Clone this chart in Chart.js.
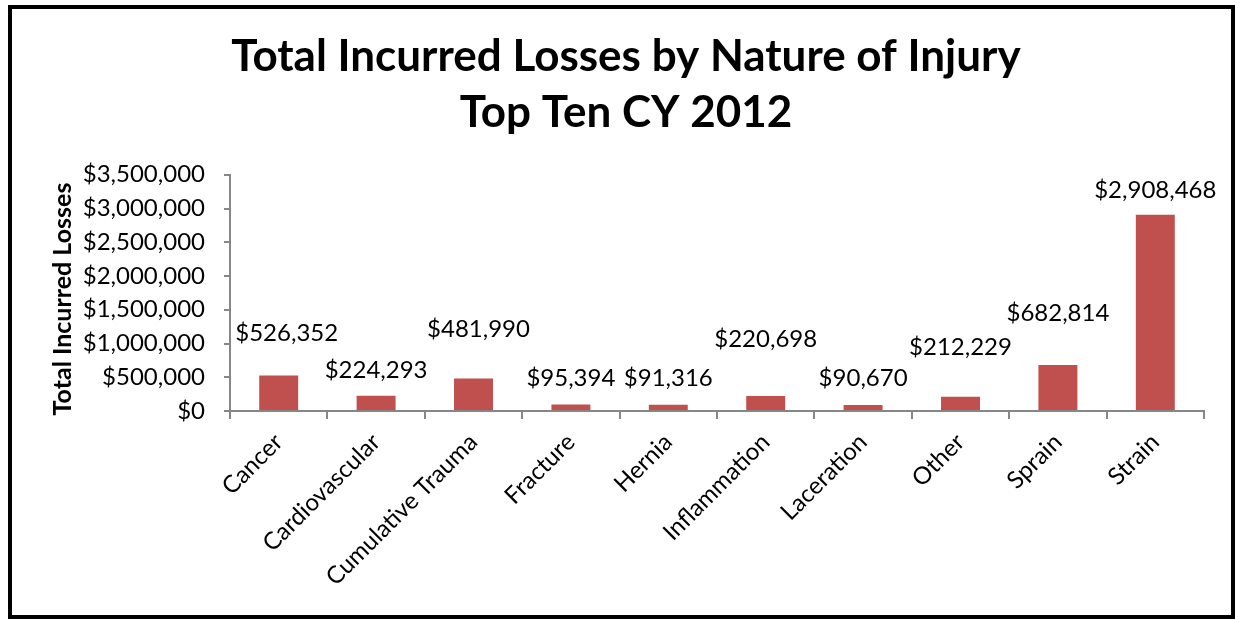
<!DOCTYPE html>
<html>
<head>
<meta charset="utf-8">
<title>Total Incurred Losses by Nature of Injury</title>
<script src="https://cdn.jsdelivr.net/npm/chart.js@4.4.1/dist/chart.umd.min.js"></script>
<style>
  html, body { margin: 0; padding: 0; background: #fff; }
  canvas { display: block; }
</style>
</head>
<body>
<canvas id="lossChart" width="1235" height="619"></canvas>
<script>
// injury categories and CY 2012 incurred totals
const injuries = ["Cancer", "Cardiovascular", "Cumulative Trauma", "Fracture", "Hernia",
  "Inflammation", "Laceration", "Other", "Sprain", "Strain"];
const incurred = [526352, 224293, 481990, 95394, 91316, 220698, 90670, 212229, 682814, 2908468];
const yTicks = [0, 500000, 1000000, 1500000, 2000000, 2500000, 3000000, 3500000];

// where each value label sits relative to the top of its bar
const labelShiftX = [8, 0, 5, 0, 0, 0, 0, 0, 0, 0];
const labelLift = [34, 18, 41, 19, 19, 49, 19, 42, 44, 17];

const money = v => "$" + Number(v).toLocaleString("en-US");
const FONT = "Lato";
const AXIS_GRAY = "#868686";

// white page with a heavy black frame
const framePlugin = {
  id: "frame",
  beforeDraw(chart) {
    const c = chart.ctx;
    c.save();
    c.fillStyle = "#fff";
    c.fillRect(0, 0, chart.width, chart.height);
    c.lineWidth = 4;
    c.strokeStyle = "#000";
    c.strokeRect(10, 7, chart.width - 12, chart.height - 9);
    c.restore();
  }
};

// dollar labels above bars
const valueLabels = {
  id: "valueLabels",
  afterDatasetsDraw(chart) {
    const c = chart.ctx;
    const meta = chart.getDatasetMeta(0);
    c.save();
    c.font = "24px " + FONT;
    c.fillStyle = "#000";
    c.textAlign = "center";
    c.textBaseline = "alphabetic";
    meta.data.forEach((bar, i) => {
      c.fillText(money(incurred[i]), bar.x + labelShiftX[i], bar.y - labelLift[i]);
    });
    c.restore();
  }
};

// y title drawn a little below the axis midpoint
const yTitle = {
  id: "yTitle",
  afterDraw(chart) {
    const c = chart.ctx;
    c.save();
    c.translate(63, 299);
    c.rotate(-Math.PI / 2);
    c.font = "bold 25px " + FONT;
    c.fillStyle = "#000";
    c.textAlign = "center";
    c.textBaseline = "middle";
    c.fillText("Total Incurred Losses", 0, 0);
    c.restore();
  }
};

new Chart(document.getElementById("lossChart"), {
  type: "bar",
  data: {
    labels: injuries,
    datasets: [{
      data: incurred,
      backgroundColor: "#C0504D",
      categoryPercentage: 1,
      barPercentage: 0.4
    }]
  },
  options: {
    responsive: false,
    animation: false,
    events: [],
    layout: { padding: { left: 48, right: 31, top: 0, bottom: 0 } },
    plugins: {
      legend: { display: false },
      tooltip: { enabled: false },
      title: {
        display: true,
        text: ["Total Incurred Losses by Nature of Injury", "Top Ten CY 2012"],
        color: "#000",
        font: { family: FONT, size: 44, weight: "bold", lineHeight: 1.27 },
        padding: { top: 29, bottom: 34 }
      }
    },
    scales: {
      x: {
        offset: true,
        afterFit(scale) { scale.height = 208; },
        border: { color: AXIS_GRAY, width: 2 },
        grid: { offset: true, drawOnChartArea: false, drawTicks: true, tickLength: 8, color: AXIS_GRAY, lineWidth: 2 },
        ticks: {
          color: "#000",
          font: { family: FONT, size: 24 },
          minRotation: 45,
          maxRotation: 45,
          autoSkip: false,
          padding: 9
        }
      },
      y: {
        min: 0,
        max: 3500000,
        afterFit(scale) { scale.width = 182; },
        afterBuildTicks(scale) { scale.ticks = yTicks.map(v => ({ value: v })); },
        border: { color: AXIS_GRAY, width: 2 },
        grid: { drawOnChartArea: false, drawTicks: true, tickLength: 6, color: AXIS_GRAY, lineWidth: 2 },
        ticks: {
          color: "#000",
          font: { family: FONT, size: 24 },
          padding: 19,
          callback: v => money(v)
        }
      }
    }
  },
  plugins: [framePlugin, valueLabels, yTitle]
});
</script>
</body>
</html>
